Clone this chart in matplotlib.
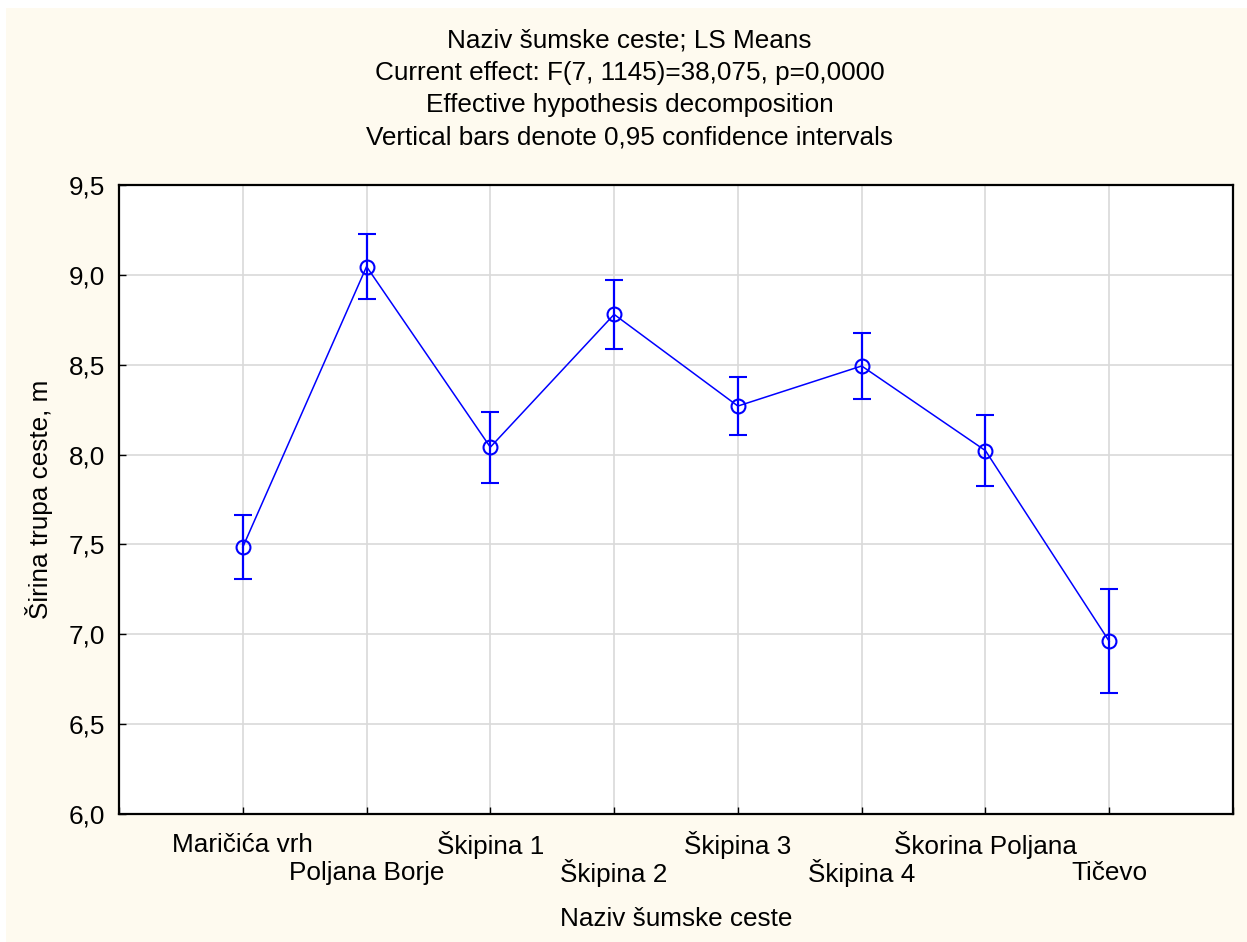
import matplotlib
matplotlib.use("Agg")
import matplotlib.pyplot as plt
from matplotlib.patches import Rectangle

plt.rcParams['font.family'] = ['Liberation Sans', 'DejaVu Sans']

# LS means with 0.95 confidence limits
roads = ['Maričića vrh', 'Poljana Borje', 'Škipina 1', 'Škipina 2',
         'Škipina 3', 'Škipina 4', 'Škorina Poljana', 'Tičevo']
means = [7.485, 9.046, 8.041, 8.780, 8.270, 8.493, 8.022, 6.961]
upper = [7.663, 9.228, 8.237, 8.974, 8.432, 8.678, 8.222, 7.250]
lower = [7.307, 8.865, 7.841, 8.585, 8.107, 8.311, 7.824, 6.672]
yticks = [6.0, 6.5, 7.0, 7.5, 8.0, 8.5, 9.0, 9.5]

title_lines = ['Naziv šumske ceste; LS Means',
               'Current effect: F(7, 1145)=38,075, p=0,0000',
               'Effective hypothesis decomposition',
               'Vertical bars denote 0,95 confidence intervals']

cream = '#FEFAEF'
fs = 18.8

fig = plt.figure(figsize=(12.47, 9.42), dpi=100, facecolor='white')
# cream panel with thin white margin at top and left
fig.patches.append(Rectangle((6 / 1247, 0), 1, 1 - 8 / 942,
                             transform=fig.transFigure, facecolor=cream,
                             edgecolor='none', zorder=-10))

ax = fig.add_axes([119 / 1247, 1 - 814 / 942, (1233 - 119) / 1247, (814 - 185) / 942])
ax.set_facecolor('white')

x = list(range(1, len(roads) + 1))
yerr = [[m - l for m, l in zip(means, lower)], [u - m for u, m in zip(upper, means)]]
ax.errorbar(x, means, yerr=yerr, color='#0000FF', lw=1.1, elinewidth=1.6,
            capsize=6.5, capthick=1.6, marker='o', markersize=10,
            markerfacecolor='none', markeredgecolor='#0000FF', markeredgewidth=1.5,
            zorder=3)

ax.set_xlim(0, len(roads) + 1)
ax.set_ylim(6.0, 9.5)
ax.set_yticks(yticks)
ax.set_yticklabels([f'{v:.1f}'.replace('.', ',') for v in yticks], fontsize=fs)
ax.set_xticks(range(0, len(roads) + 2))
ax.set_xticklabels([''] * (len(roads) + 2))
ax.grid(True, color='#D9D9D9', lw=1.2)
ax.set_axisbelow(True)
ax.tick_params(direction='in', length=5, width=1, color='black', pad=10)
for s in ax.spines.values():
    s.set_linewidth(1.6)
    s.set_color('black')

# staggered category labels
for i, name in enumerate(roads):
    yy = -0.049 if i % 2 == 0 else -0.094
    ax.text(x[i], yy, name, transform=ax.get_xaxis_transform(),
            ha='center', va='center', fontsize=fs)

ax.set_xlabel('Naziv šumske ceste', fontsize=fs, labelpad=57)
ax.set_ylabel('Širina trupa ceste, m', fontsize=fs, labelpad=11)

fig.text(0.505, 1 - 89 / 942, '\n'.join(title_lines), ha='center', va='center',
         fontsize=fs, linespacing=1.44)

fig.savefig('out.png', dpi=100, facecolor=fig.get_facecolor())
